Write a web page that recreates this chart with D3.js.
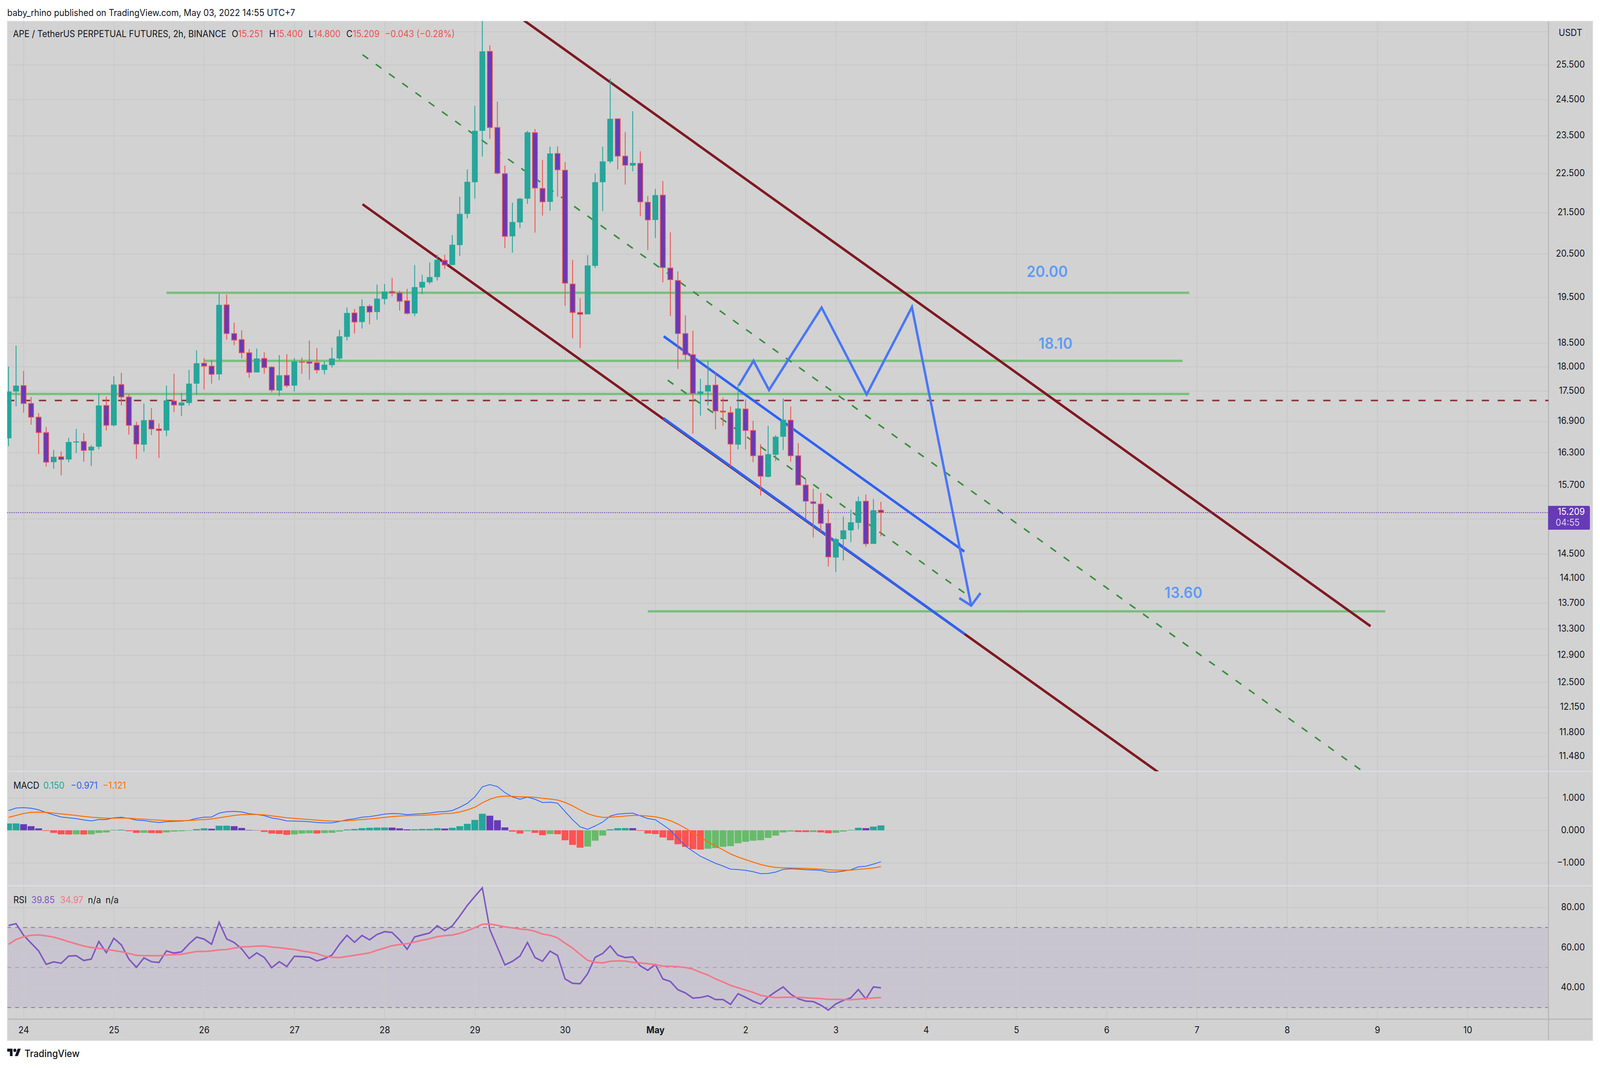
<!DOCTYPE html>
<html>
<head>
<meta charset="utf-8">
<title>APE / TetherUS 2h</title>
<script src="https://d3js.org/d3.v7.min.js"></script>
<style>
  html, body { margin: 0; padding: 0; background: #ffffff; overflow: hidden; width: 100%; height: 100%; }
  svg { display: block; width: 100vw; height: 100vh; }
  text { font-family: Inter, "Noto Sans", sans-serif; }
</style>
</head>
<body>
<!-- the browser window can come out narrower than asked, so the drawing is fitted to the window -->
<svg id="chart" viewBox="0 0 4440 2734" preserveAspectRatio="none"></svg>
<script>
// candles, one per 2h bar, bar 2 is the start of the 24th
var opens = [
  16.57,17.49,17.61,17.25,16.98,16.68,16.12,16.22,16.17,16.49,
  16.51,16.34,16.41,17.21,16.82,17.63,17.38,16.82,16.45,16.92,
  16.75,16.72,17.30,17.21,17.26,17.65,18.07,18.01,17.84,19.33,
  18.70,18.57,18.29,17.88,18.17,17.99,17.51,17.82,17.61,18.10,
  18.10,18.08,17.93,18.03,18.17,18.63,19.15,18.95,19.30,19.17,
  19.46,19.63,19.60,19.42,19.14,19.72,19.84,19.96,20.35,20.24,
  20.71,21.47,22.27,23.63,25.90,23.72,22.49,20.92,21.26,21.85,
  23.58,22.11,21.77,23.02,22.58,19.80,19.16,19.12,20.22,22.27,
  22.81,23.96,22.95,22.70,22.76,21.76,21.32,21.94,20.17,19.88,
  18.70,18.25,17.44,17.49,17.62,17.10,17.07,16.45,17.14,16.72,
  16.24,15.85,16.26,16.60,16.92,16.24,15.70,15.40,15.36,15.02,
  14.44,14.75,14.90,15.03,15.41,14.67,15.251];
var highs = [
  18.00,18.44,17.91,17.38,17.06,16.79,16.35,16.32,16.58,16.75,
  16.67,16.44,17.45,17.39,17.80,17.87,17.44,16.89,17.25,17.16,
  16.86,17.61,17.85,17.46,17.93,18.34,18.18,18.14,19.58,19.56,
  18.94,18.77,18.37,18.38,18.30,18.01,18.24,18.26,18.18,18.19,
  18.55,18.39,18.11,18.40,18.78,19.27,19.24,19.45,19.34,19.79,
  19.80,19.94,19.65,19.69,20.24,20.01,20.30,20.48,20.48,20.95,
  21.90,22.60,24.32,27.30,26.08,24.44,22.70,21.75,21.87,23.63,
  23.68,22.85,23.20,23.21,22.79,20.36,19.48,20.47,22.49,23.20,
  25.10,23.97,23.60,24.17,23.08,21.92,22.10,22.30,21.02,20.09,
  19.10,18.76,17.75,18.12,17.89,17.37,17.19,17.63,17.33,16.91,
  16.46,16.81,16.63,17.35,17.19,16.48,15.81,15.63,15.56,15.26,
  14.77,15.14,15.26,15.49,15.53,15.45,15.400];
var lows = [
  16.42,17.19,17.07,16.83,16.27,16.04,16.00,15.88,16.12,16.29,
  16.13,16.05,16.36,16.72,16.80,17.21,16.64,16.18,16.32,16.63,
  16.20,16.61,17.08,17.00,17.21,17.42,17.53,17.65,17.72,18.57,
  18.45,18.17,17.77,17.88,17.85,17.47,17.40,17.57,17.49,17.85,
  17.73,17.86,17.84,17.98,18.13,18.55,18.70,18.81,18.90,19.00,
  19.34,19.52,19.20,19.12,19.08,19.57,19.80,19.88,20.15,20.24,
  20.45,21.36,21.85,22.94,23.41,22.47,20.64,20.53,21.12,21.72,
  21.01,21.43,21.55,21.90,19.31,18.60,18.39,19.12,20.17,21.54,
  22.76,22.60,22.21,22.55,21.41,20.59,20.88,19.84,19.08,17.95,
  18.13,16.66,17.01,17.21,16.74,16.81,16.04,16.36,16.36,16.12,
  15.51,15.84,16.14,16.35,16.13,15.70,15.10,14.78,14.88,14.29,
  14.20,14.39,14.70,14.92,14.62,14.67,14.800];
var closes = [
  17.49,17.61,17.25,16.98,16.68,16.12,16.22,16.17,16.50,16.51,
  16.34,16.41,17.21,16.82,17.63,17.38,16.82,16.46,16.92,16.75,
  16.72,17.31,17.22,17.27,17.65,18.07,18.01,17.84,19.33,18.70,
  18.56,18.29,17.88,18.17,17.98,17.52,17.82,17.61,18.11,18.09,
  18.07,17.93,18.04,18.17,18.64,19.15,18.95,19.30,19.17,19.47,
  19.63,19.60,19.41,19.14,19.73,19.85,19.96,20.36,20.24,20.72,
  21.47,22.28,23.63,25.90,23.72,22.50,20.92,21.27,21.85,23.59,
  22.12,21.77,23.02,22.59,19.82,19.16,19.12,20.23,22.27,22.81,
  23.96,22.95,22.71,22.77,21.77,21.32,21.94,20.18,19.90,18.70,
  18.25,17.45,17.49,17.62,17.10,17.08,16.46,17.15,16.72,16.24,
  15.86,16.27,16.60,16.93,16.24,15.70,15.41,15.37,15.02,14.45,
  14.75,14.90,15.04,15.41,14.67,15.25,15.209];

// MACD pane
var macdHist = [
  .21,.212,.187,.127,.06,-.02,-.08,-.125,-.13,-.125,
  -.13,-.125,-.08,-.066,.012,.02,-.03,-.08,-.078,-.085,
  -.09,-.066,-.04,-.03,-.015,.036,.06,.048,.14,.142,
  .127,.072,.012,.006,-.05,-.10,-.114,-.139,-.127,-.10,
  -.09,-.10,-.085,-.078,-.04,.024,.04,.066,.078,.084,
  .086,.084,.06,.03,.032,.042,.044,.066,.054,.078,
  .126,.2,.32,.51,.45,.31,.09,-.04,-.10,-.03,
  -.08,-.15,-.115,-.12,-.307,-.45,-.536,-.5,-.32,-.163,
  .03,.066,.068,.066,-.018,-.10,-.115,-.22,-.307,-.43,
  -.51,-.58,-.596,-.57,-.548,-.51,-.488,-.40,-.355,-.32,
  -.307,-.235,-.163,-.066,-.04,-.054,-.056,-.054,-.066,-.09,
  -.078,-.04,.012,.078,.066,.114,.15];
var macdLine = [
  .608,.687,.699,.681,.633,.548,.476,.410,.386,.361,
  .319,.289,.331,.331,.386,.404,.367,.313,.301,.265,
  .241,.265,.277,.283,.307,.367,.404,.410,.530,.572,
  .584,.566,.512,.488,.452,.380,.343,.289,.283,.277,
  .265,.241,.229,.229,.271,.325,.355,.404,.422,.458,
  .500,.518,.512,.482,.500,.512,.530,.566,.578,.608,
  .711,.831,1.030,1.343,1.410,1.349,1.163,1.030,.958,1.024,
  .958,.855,.867,.837,.578,.325,.108,.030,.133,.253,
  .440,.500,.518,.530,.446,.361,.325,.169,.006,-.247,
  -.488,-.645,-.801,-.910,-1.018,-1.102,-1.199,-1.211,-1.235,-1.277,
  -1.337,-1.331,-1.289,-1.205,-1.187,-1.199,-1.217,-1.223,-1.235,-1.289,
  -1.289,-1.259,-1.217,-1.127,-1.108,-1.042,-.971];
var macdSignal = [
  .398,.458,.518,.554,.560,.554,.530,.506,.482,.458,
  .428,.404,.386,.373,.373,.380,.373,.355,.343,.325,
  .313,.301,.295,.295,.301,.319,.331,.349,.386,.422,
  .458,.482,.488,.488,.476,.446,.416,.386,.367,.349,
  .331,.313,.295,.283,.283,.295,.313,.331,.349,.373,
  .398,.422,.440,.452,.458,.464,.476,.494,.518,.524,
  .566,.627,.711,.849,.958,1.030,1.054,1.048,1.030,1.030,
  1.018,.988,.964,.934,.861,.753,.627,.512,.440,.398,
  .404,.422,.440,.458,.458,.440,.416,.367,.295,.193,
  .066,-.078,-.223,-.355,-.482,-.602,-.729,-.825,-.904,-.982,
  -1.054,-1.108,-1.145,-1.157,-1.163,-1.169,-1.175,-1.187,-1.199,-1.217,
  -1.229,-1.229,-1.229,-1.205,-1.187,-1.163,-1.121];

// RSI pane
var rsiLine = [
  71.0,71.9,66.1,62.2,58.3,51.6,52.8,52.1,55.7,55.9,
  53.5,54.2,63.0,57.4,64.6,61.3,54.2,50.1,54.8,52.9,
  52.5,58.3,57.2,57.8,61.8,65.2,64.2,61.6,72.6,64.3,
  62.5,59.3,54.5,57.3,55.0,49.9,52.9,50.5,55.6,55.4,
  55.1,53.3,54.4,56.2,61.6,66.1,62.6,66.0,63.8,66.5,
  67.9,67.5,63.8,59.1,65.3,66.3,67.3,70.9,68.4,70.8,
  75.7,81.0,85.5,89.8,68.9,60.1,51.3,53.1,55.7,62.5,
  55.0,53.1,58.2,56.0,44.3,42.1,41.9,46.9,55.1,57.0,
  60.8,56.2,55.0,55.3,50.8,48.6,51.5,44.3,43.0,38.9,
  37.3,34.7,35.0,35.9,34.0,34.0,31.6,36.9,35.1,33.2,
  31.7,35.3,37.9,40.3,36.7,34.4,33.2,33.0,31.2,28.7,
  31.8,33.6,34.9,39.0,34.3,40.3,39.85];
var rsiMa = [
  61.6,64.0,65.3,66.1,66.3,65.8,65.2,64.1,62.9,61.8,
  60.7,60.0,59.5,59.0,58.5,57.9,57.0,56.1,55.9,55.9,
  55.9,56.3,56.4,56.6,57.3,58.0,58.0,58.3,58.8,59.0,
  59.7,60.3,60.4,60.7,60.8,60.2,59.9,59.4,59.0,58.3,
  57.7,57.0,55.7,55.1,55.0,55.5,56.1,56.7,57.3,58.6,
  59.7,60.9,61.5,61.9,62.7,63.6,64.4,65.4,65.9,66.2,
  67.1,68.3,69.9,71.6,71.7,71.1,70.3,69.8,69.2,68.9,
  68.1,66.7,66.1,64.8,62.2,59.7,56.6,53.6,52.6,52.3,
  53.1,53.3,53.2,52.6,52.3,51.9,51.4,50.7,50.6,50.4,
  50.0,49.2,47.6,46.2,44.3,42.8,41.1,39.9,38.7,37.6,
  36.1,35.4,35.0,35.1,35.1,35.1,34.9,34.7,34.5,34.1,
  34.1,34.0,33.9,34.2,34.5,34.8,34.97];

// axis labels
var priceTicks = [26.5,25.5,24.5,23.5,22.5,21.5,20.5,19.5,18.5,18,17.5,16.9,16.3,15.7,15.1,14.5,14.1,13.7,13.3,12.9,12.5,12.15,11.8,11.48];
var hiddenPriceTicks = [26.5,15.1];   // grid only, label is covered in the original
var macdTicks = [1,0,-1];
var rsiTicks = [80,60,40];
var dayLabels = ["24","25","26","27","28","29","30","May","2","3","4","5","6","7","8","9","10"];
var dayBars = dayLabels.map(function(d,i){ return 2 + 12*i; });

// drawings on the chart as [bar, price]
var channelUpper = [[68,26.93],[181.1,13.34]];
var channelLower = [[47.07,21.71],[153.6,11.22]];
var channelMid   = [[47.07,25.80],[180.95,11.22]];
var innerUpper = [[87.12,18.64],[127.09,14.54]];
var innerLower = [[87.08,16.96],[127.13,13.22]];
var innerMid   = [[87.65,17.72],[127.13,13.86]];
var zigzag = [[97.09,17.61],[99.06,18.12],[101.12,17.52],[108.11,19.27],[114.1,17.43],[120.12,19.28],[128,13.66]];
var arrowHead = [[126.42,13.78],[128,13.66],[129.24,13.86]];
var levelPrices = [19.60,18.12,17.44,13.57];
var levelFrom = [21,26,-1,85];
var levelTo = [157,156.1,157,183.05];
var costLine = 17.31;
var lastPrice = 15.209;

// layout of the picture
var left = 20, right = 4297, outerRight = 4420;
var top0 = 54, mainBottom = 1974.5, macdBottom = 2267.5, rsiBottom = 2609, bottom = 2664;

var teal = "#26a69a", purple = "#673ab7", red = "#ef5350";

var svg = d3.select("#chart");

// scales
var x = d3.scaleLinear().domain([0,116]).range([23.7,2444.6]);
var yPrice = d3.scaleLog().domain([25.5,11.48]).range([166,1936]);
var yMacd = d3.scaleLinear().domain([1,-1]).range([2042.5,2208.5]);
var yRsi = d3.scaleLinear().domain([80,40]).range([2323,2528]);

// panel background
svg.append("rect").attr("x",left).attr("y",top0).attr("width",outerRight-left).attr("height",bottom-top0).attr("fill","#d2d2d2");

// clips for the three panes
var defs = svg.append("defs");
function addClip(id, y0, y1) {
    defs.append("clipPath").attr("id",id).append("rect")
        .attr("x",left).attr("y",y0).attr("width",right-left).attr("height",y1-y0);
}
addClip("clipMain",top0,mainBottom);
addClip("clipMacd",mainBottom,macdBottom);
addClip("clipRsi",macdBottom,rsiBottom);

// RSI band goes under the grid
svg.append("rect").attr("x",left).attr("width",right-left)
    .attr("y",yRsi(70)).attr("height",yRsi(30)-yRsi(70)).attr("fill","#7e57c2").attr("fill-opacity",0.1);

// vertical grid comes from the time axis
var timeAxis = d3.axisBottom(x).tickValues(dayBars).tickSizeInner(-(rsiBottom-top0)).tickSizeOuter(0)
    .tickPadding(18).tickFormat(function(d,i){ return dayLabels[i]; });
var timeG = svg.append("g").attr("transform","translate(0,"+rsiBottom+")").call(timeAxis);
timeG.select(".domain").remove();
timeG.selectAll(".tick line").attr("stroke","#c8c8c8").attr("stroke-width",2);
timeG.selectAll(".tick text").attr("font-size",24).attr("font-family","Inter").attr("fill","#131722")
    .attr("y",0).attr("dy","0").attr("dominant-baseline","middle")
    .attr("transform","translate(0,29)")
    .attr("font-weight",function(d,i){ return dayLabels[i]=="May" ? 700 : 400; });

// horizontal grid and labels from the right side axes
function rightAxis(scale, ticks, fmt) {
    var axis = d3.axisRight(scale).tickValues(ticks).tickSizeInner(left-right).tickSizeOuter(0).tickPadding(0).tickFormat(fmt);
    var g = svg.append("g").attr("transform","translate("+right+",0)").call(axis);
    g.select(".domain").remove();
    g.selectAll(".tick line").attr("stroke","#c8c8c8").attr("stroke-width",2);
    g.selectAll(".tick text").attr("font-size",24).attr("font-family","Inter").attr("fill","#131722")
        .attr("text-anchor","end").attr("x",4398-right).attr("dy","0").attr("dominant-baseline","middle");
    return g;
}
var priceFmt = d3.format(".3f");
rightAxis(yPrice, priceTicks, function(d){ return hiddenPriceTicks.indexOf(d)>=0 ? "" : priceFmt(d); });
rightAxis(yMacd, macdTicks, priceFmt);
rightAxis(yRsi, rsiTicks, d3.format(".2f"));

// RSI dashed levels
[70,50,30].forEach(function(v){
    svg.append("line").attr("x1",left).attr("x2",right).attr("y1",yRsi(v)).attr("y2",yRsi(v))
        .attr("stroke","#787b86").attr("stroke-width",2).attr("stroke-dasharray","11 11")
        .attr("stroke-opacity", v==50 ? 0.5 : 1);
});

// axis rules and pane separators
svg.append("line").attr("x1",right).attr("x2",right).attr("y1",top0).attr("y2",bottom).attr("stroke","#b8b8b8").attr("stroke-width",3);
svg.append("line").attr("x1",left).attr("x2",outerRight).attr("y1",rsiBottom).attr("y2",rsiBottom).attr("stroke","#b8b8b8").attr("stroke-width",3);
[mainBottom,macdBottom].forEach(function(y){
    svg.append("line").attr("x1",left).attr("x2",outerRight).attr("y1",y).attr("y2",y).attr("stroke","#e0e3eb").attr("stroke-width",2);
});
svg.append("rect").attr("x",left).attr("y",top0).attr("width",outerRight-left).attr("height",bottom-top0)
    .attr("fill","none").attr("stroke","#e0e3eb").attr("stroke-width",1.5);

// main pane drawings, they sit behind the candles
var main = svg.append("g").attr("clip-path","url(#clipMain)");
var toLine = d3.line().x(function(d){ return x(d[0]); }).y(function(d){ return yPrice(d[1]); });

function drawTool(points, color, width, dash) {
    return main.append("path").attr("d",toLine(points)).attr("fill","none")
        .attr("stroke",color).attr("stroke-width",width)
        .attr("stroke-dasharray",dash || null).attr("stroke-linejoin","miter");
}
main.append("line").attr("x1",left).attr("x2",right).attr("y1",yPrice(costLine)).attr("y2",yPrice(costLine))
    .attr("stroke","#8a3540").attr("stroke-width",4).attr("stroke-dasharray","20 24");
levelPrices.forEach(function(p,i){
    drawTool([[levelFrom[i],p],[levelTo[i],p]],"#7abf7f",6);
});
drawTool(channelUpper,"#801922",6.5);
drawTool(channelLower,"#801922",6.5);
drawTool(channelMid,"#388e3c",4,"19 25");
drawTool(innerMid,"#388e3c",4,"19 25");
drawTool(innerUpper,"#2f62f5",6.5);
drawTool(innerLower,"#2f62f5",6.5);
drawTool(zigzag,"#4a76f7",6.5);
drawTool(arrowHead,"#4a76f7",6.5);

// last price dotted line
main.append("line").attr("x1",left).attr("x2",right).attr("y1",yPrice(lastPrice)).attr("y2",yPrice(lastPrice))
    .attr("stroke",purple).attr("stroke-width",2).attr("stroke-dasharray","3 3");

// candles
var candles = d3.range(opens.length);
var isUp = function(i){ return closes[i] >= opens[i]; };
main.selectAll("line.wick").data(candles).enter().append("line").attr("class","wick")
    .attr("x1",function(i){ return x(i); }).attr("x2",function(i){ return x(i); })
    .attr("y1",function(i){ return yPrice(highs[i]); }).attr("y2",function(i){ return yPrice(lows[i]); })
    .attr("stroke",function(i){ return isUp(i) ? teal : red; }).attr("stroke-width",2.4);
main.selectAll("rect.body").data(candles).enter().append("rect").attr("class","body")
    .attr("x",function(i){ return x(i) - (isUp(i) ? 8 : 7); })
    .attr("width",function(i){ return isUp(i) ? 16 : 14; })
    .attr("y",function(i){ return yPrice(Math.max(opens[i],closes[i])); })
    .attr("height",function(i){ return Math.abs(yPrice(opens[i])-yPrice(closes[i])); })
    .attr("fill",function(i){ return isUp(i) ? teal : purple; })
    .attr("stroke",function(i){ return isUp(i) ? "none" : red; })
    .attr("stroke-width",2);

// level captions
[["20.00",2906,698],["18.10",2929,882],["13.60",3284,1520]].forEach(function(t){
    svg.append("text").text(t[0]).attr("x",t[1]).attr("y",t[2]).attr("text-anchor","middle")
        .attr("dominant-baseline","middle").attr("font-size",40).attr("font-weight",600).attr("fill","#5e9cf5");
});

// MACD histogram, colour follows direction of the bar
var macdPane = svg.append("g").attr("clip-path","url(#clipMacd)");
function histColor(i) {
    var rising = i==0 || macdHist[i] >= macdHist[i-1];
    if (macdHist[i] >= 0) return rising ? teal : purple;
    return rising ? "#66bb6a" : "#ff5252";
}
macdPane.selectAll("rect").data(d3.range(macdHist.length)).enter().append("rect")
    .attr("x",function(i){ return x(i)-9.5; }).attr("width",19)
    .attr("y",function(i){ return yMacd(Math.max(macdHist[i],0)); })
    .attr("height",function(i){ return Math.abs(yMacd(macdHist[i])-yMacd(0)); })
    .attr("fill",histColor);
var seriesLine = function(scale){
    return d3.line().x(function(d,i){ return x(i); }).y(function(d){ return scale(d); });
};
macdPane.append("path").attr("d",seriesLine(yMacd)(macdLine)).attr("fill","none").attr("stroke","#2962ff").attr("stroke-width",2);
macdPane.append("path").attr("d",seriesLine(yMacd)(macdSignal)).attr("fill","none").attr("stroke","#ff6d00").attr("stroke-width",2.5);

// RSI lines
var rsiPane = svg.append("g").attr("clip-path","url(#clipRsi)");
rsiPane.append("path").attr("d",seriesLine(yRsi)(rsiLine)).attr("fill","none").attr("stroke","#7e57c2").attr("stroke-width",4);
rsiPane.append("path").attr("d",seriesLine(yRsi)(rsiMa)).attr("fill","none").attr("stroke","#f2788a").attr("stroke-width",4);

// helper for the plain text pieces
function label(txt, px, py, color, size, anchor) {
    return svg.append("text").text(txt).attr("x",px).attr("y",py).attr("fill",color)
        .attr("font-size",size || 24).attr("text-anchor",anchor || "start").attr("dominant-baseline","middle");
}

// header and legends
label("baby_rhino published on TradingView.com, May 03, 2022 14:55 UTC+7",20,35,"#131722",23.85);
label("APE / TetherUS PERPETUAL FUTURES, 2h, BINANCE",36,89,"#131722",23.7);
var ink = "#131722", lossRed = "#ef5350";
[["O",643,ink],["15.251",661,lossRed],["H",747,ink],["15.400",765,lossRed],["L",856,ink],["14.800",870,lossRed],
 ["C",961,ink],["15.209",979,lossRed],["\u22120.043 (\u22120.28%)",1068,lossRed]].forEach(function(t){
    label(t[0],t[1],89,t[2],23.7);
});
[["MACD",37,ink],["0.150",120,teal],["\u22120.971",196,"#2962ff"],["\u22121.121",285,"#ff6d00"]].forEach(function(t){
    label(t[0],t[1],2012,t[2],24);
});
[["RSI",37,ink],["39.85",87,"#7e57c2"],["34.97",167,"#f2788a"],["n/a",244,ink],["n/a",293,ink]].forEach(function(t){
    label(t[0],t[1],2305,t[2],24);
});

// currency box at the top of the price axis
svg.append("rect").attr("x",4319).attr("y",70).attr("width",78).attr("height",31).attr("rx",3)
    .attr("fill","none").attr("stroke","#d8d8de").attr("stroke-width",1);
label("USDT",4358,85,ink,24,"middle");

// last price tag
svg.append("path").attr("d","M4296,1295H4408a4,4 0 0 1 4,4V1352a4,4 0 0 1 -4,4H4296Z").attr("fill",purple);
label(lastPrice.toFixed(3),4398,1311,"#ffffff",24,"end");
label("04:55",4317,1339,"#d9cdf0",24);

// footer logo
var logo = svg.append("g").attr("transform","translate(20,2684.5) scale(1.06)");
logo.append("path").attr("d","M14 22H7V11H0V4h14v18zM28 22h-8l7.5-18h8L28 22z").attr("transform","translate(0,-4)").attr("fill","#131722");
logo.append("circle").attr("cx",20).attr("cy",4).attr("r",4).attr("fill","#131722");
label("TradingView",68,2699,"#131722",25.5).attr("font-weight",500);
</script>
</body>
</html>
